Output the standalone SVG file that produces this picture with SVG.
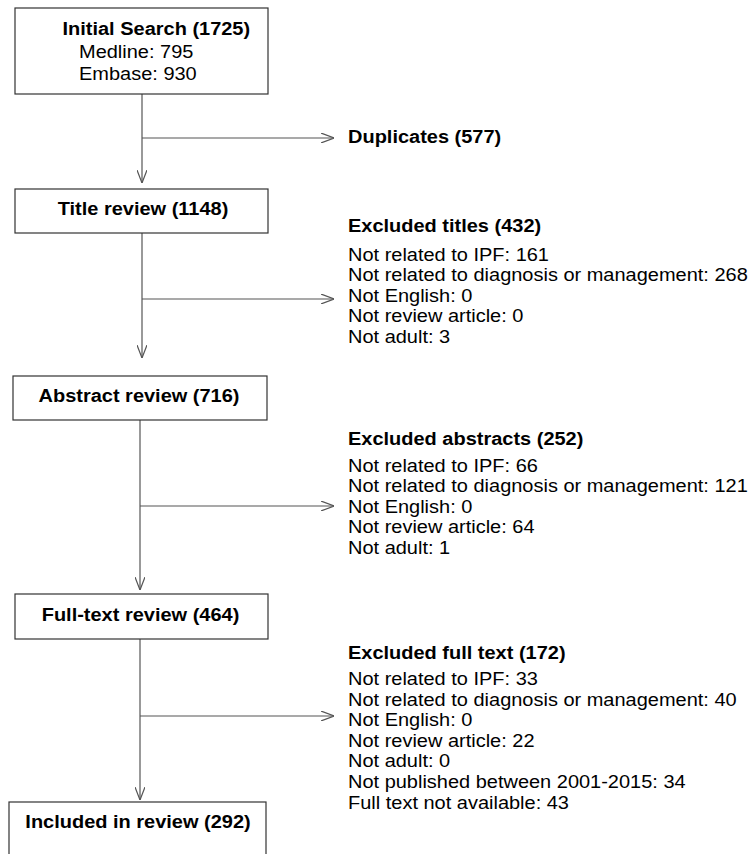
<svg xmlns="http://www.w3.org/2000/svg" width="753" height="854" viewBox="0 0 753 854">
<style>
  .box { fill: #ffffff; stroke: #333333; stroke-width: 1.2; }
  .t { font-family: "Liberation Sans", Arial, sans-serif; font-size: 18.5px; fill: #000000; }
  .b { font-weight: bold; }
  .c { text-anchor: middle; }
  .conn { stroke: #555555; stroke-width: 1.2; fill: none; }
</style>
<defs>
  <marker id="arr" viewBox="0 0 13 10" refX="13" refY="5" markerWidth="13" markerHeight="10" markerUnits="userSpaceOnUse" orient="auto">
    <path d="M0,0 L13,5 L0,10" fill="none" stroke="#555555" stroke-width="1.2"/>
  </marker>
</defs>
<rect width="753" height="854" fill="#ffffff"/>

<g id="connectors">
  <path class="conn" d="M142,94 V183" marker-end="url(#arr)"/>
  <path class="conn" d="M142,138 H334" marker-end="url(#arr)"/>
  <path class="conn" d="M142,233 V358" marker-end="url(#arr)"/>
  <path class="conn" d="M142,299 H334" marker-end="url(#arr)"/>
  <path class="conn" d="M140,420 V590" marker-end="url(#arr)"/>
  <path class="conn" d="M140,506 H334" marker-end="url(#arr)"/>
  <path class="conn" d="M140,639 V800" marker-end="url(#arr)"/>
  <path class="conn" d="M140,716 H334" marker-end="url(#arr)"/>
</g>

<g id="initial-search">
  <rect class="box" x="15" y="8" width="253" height="86"/>
  <text class="t b" transform="translate(62.5,34.5) scale(1.08,1)">Initial Search (1725)</text>
  <text class="t" transform="translate(79,58) scale(1.08,1)">Medline: 795</text>
  <text class="t" transform="translate(79,80) scale(1.08,1)">Embase: 930</text>
</g>

<g id="title-review">
  <rect class="box" x="15" y="189" width="253" height="44"/>
  <text class="t b c" transform="translate(143,215) scale(1.08,1)">Title review (1148)</text>
</g>

<g id="abstract-review">
  <rect class="box" x="13" y="376" width="254" height="44"/>
  <text class="t b c" transform="translate(139,402) scale(1.08,1)">Abstract review (716)</text>
</g>

<g id="fulltext-review">
  <rect class="box" x="15" y="594" width="253" height="45"/>
  <text class="t b c" transform="translate(140.5,620.5) scale(1.08,1)">Full-text review (464)</text>
</g>

<g id="included">
  <rect class="box" x="9" y="802" width="257" height="80"/>
  <text class="t b c" transform="translate(138,828) scale(1.08,1)">Included in review (292)</text>
</g>

<g id="duplicates">
  <text class="t b" transform="translate(348,143) scale(1.08,1)">Duplicates (577)</text>
</g>

<g id="excluded-titles">
  <text class="t b" transform="translate(348,231.5) scale(1.08,1)">Excluded titles (432)</text>
  <text class="t" transform="translate(348,260.5) scale(1.08,1)">
    <tspan x="0" y="0">Not related to IPF: 161</tspan>
    <tspan x="0" dy="20.6">Not related to diagnosis or management: 268</tspan>
    <tspan x="0" dy="20.6">Not English: 0</tspan>
    <tspan x="0" dy="20.6">Not review article: 0</tspan>
    <tspan x="0" dy="20.6">Not adult: 3</tspan>
  </text>
</g>

<g id="excluded-abstracts">
  <text class="t b" transform="translate(348,445) scale(1.08,1)">Excluded abstracts (252)</text>
  <text class="t" transform="translate(348,471.5) scale(1.08,1)">
    <tspan x="0" y="0">Not related to IPF: 66</tspan>
    <tspan x="0" dy="20.6">Not related to diagnosis or management: 121</tspan>
    <tspan x="0" dy="20.6">Not English: 0</tspan>
    <tspan x="0" dy="20.6">Not review article: 64</tspan>
    <tspan x="0" dy="20.6">Not adult: 1</tspan>
  </text>
</g>

<g id="excluded-fulltext">
  <text class="t b" transform="translate(348,659) scale(1.08,1)">Excluded full text (172)</text>
  <text class="t" transform="translate(348,685) scale(1.08,1)">
    <tspan x="0" y="0">Not related to IPF: 33</tspan>
    <tspan x="0" dy="20.6">Not related to diagnosis or management: 40</tspan>
    <tspan x="0" dy="20.6">Not English: 0</tspan>
    <tspan x="0" dy="20.6">Not review article: 22</tspan>
    <tspan x="0" dy="20.6">Not adult: 0</tspan>
    <tspan x="0" dy="20.6">Not published between 2001-2015: 34</tspan>
    <tspan x="0" dy="20.6">Full text not available: 43</tspan>
  </text>
</g>
</svg>
